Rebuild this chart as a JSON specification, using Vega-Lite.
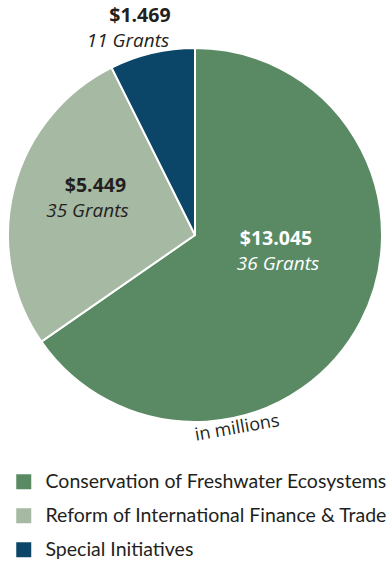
{
  "$schema": "https://vega.github.io/schema/vega-lite/v6.json",
  "width": 390,
  "height": 470,
  "padding": {"left": 0, "top": 0, "right": 2, "bottom": 91},
  "autosize": "none",
  "background": "white",
  "config": {"view": {"stroke": null}},
  "data": {"values": [
    {"category": "Conservation of Freshwater Ecosystems", "value": 13.045, "amount": "$13.045", "grants": "36 Grants"},
    {"category": "Reform of International Finance & Trade", "value": 5.449, "amount": "$5.449", "grants": "35 Grants"},
    {"category": "Special Initiatives", "value": 1.469, "amount": "$1.469", "grants": "11 Grants"}
  ]},
  "encoding": {
    "theta": {"field": "value", "type": "quantitative", "stack": true},
    "order": {"field": "category", "type": "ordinal", "sort": "ascending"}
  },
  "layer": [
    {
      "mark": {"type": "arc", "outerRadius": 187, "stroke": "white", "strokeWidth": 2},
      "encoding": {
        "color": {
          "field": "category", "type": "nominal",
          "scale": {"domain": ["Conservation of Freshwater Ecosystems", "Reform of International Finance & Trade", "Special Initiatives"], "range": ["#5a8a64", "#a6b9a3", "#0b4668"]},
          "legend": {
            "title": null, "orient": "none", "legendX": 14, "legendY": 472,
            "direction": "vertical", "symbolType": "square", "symbolSize": 225,
            "symbolStrokeWidth": 0, "symbolOpacity": 1,
            "labelFont": "Lato", "labelFontSize": 19.5, "labelColor": "#231f20",
            "labelOffset": 12, "rowPadding": 13, "labelLimit": 400
          }
        }
      }
    },
    {
      "mark": {"type": "text", "radius": 70, "dx": 19, "dy": -28, "font": "Open Sans", "fontWeight": "bold", "fontSize": 19.5, "color": "white"},
      "encoding": {"text": {"condition": {"test": "datum.category === 'Conservation of Freshwater Ecosystems'", "field": "amount"}, "value": ""}}
    },
    {
      "mark": {"type": "text", "radius": 70, "dx": 21, "dy": -3, "font": "Open Sans", "fontStyle": "italic", "fontSize": 19, "color": "white"},
      "encoding": {"text": {"condition": {"test": "datum.category === 'Conservation of Freshwater Ecosystems'", "field": "grants"}, "value": ""}}
    },
    {
      "mark": {"type": "text", "radius": 110, "dx": 7, "dy": -22, "font": "Open Sans", "fontWeight": "bold", "fontSize": 19.5, "color": "#231f20"},
      "encoding": {"text": {"condition": {"test": "datum.category === 'Reform of International Finance & Trade'", "field": "amount"}, "value": ""}}
    },
    {
      "mark": {"type": "text", "radius": 110, "dx": -1, "dy": 3, "font": "Open Sans", "fontStyle": "italic", "fontSize": 19, "color": "#231f20"},
      "encoding": {"text": {"condition": {"test": "datum.category === 'Reform of International Finance & Trade'", "field": "grants"}, "value": ""}}
    },
    {
      "mark": {"type": "text", "radius": 210, "dx": -7, "dy": -15, "font": "Open Sans", "fontWeight": "bold", "fontSize": 19.5, "color": "#231f20"},
      "encoding": {"text": {"condition": {"test": "datum.category === 'Special Initiatives'", "field": "amount"}, "value": ""}}
    },
    {
      "mark": {"type": "text", "radius": 210, "dx": -19, "dy": 10, "font": "Open Sans", "fontStyle": "italic", "fontSize": 19, "color": "#231f20"},
      "encoding": {"text": {"condition": {"test": "datum.category === 'Special Initiatives'", "field": "grants"}, "value": ""}}
    },
    {
      "data": {"values": [{"note": "in millions"}]},
      "mark": {"type": "text", "radius": 198, "theta": 2.927, "angle": 350, "font": "Open Sans", "fontSize": 18, "color": "#231f20"},
      "encoding": {"text": {"field": "note", "type": "nominal"}, "theta": null, "order": null}
    }
  ]
}
